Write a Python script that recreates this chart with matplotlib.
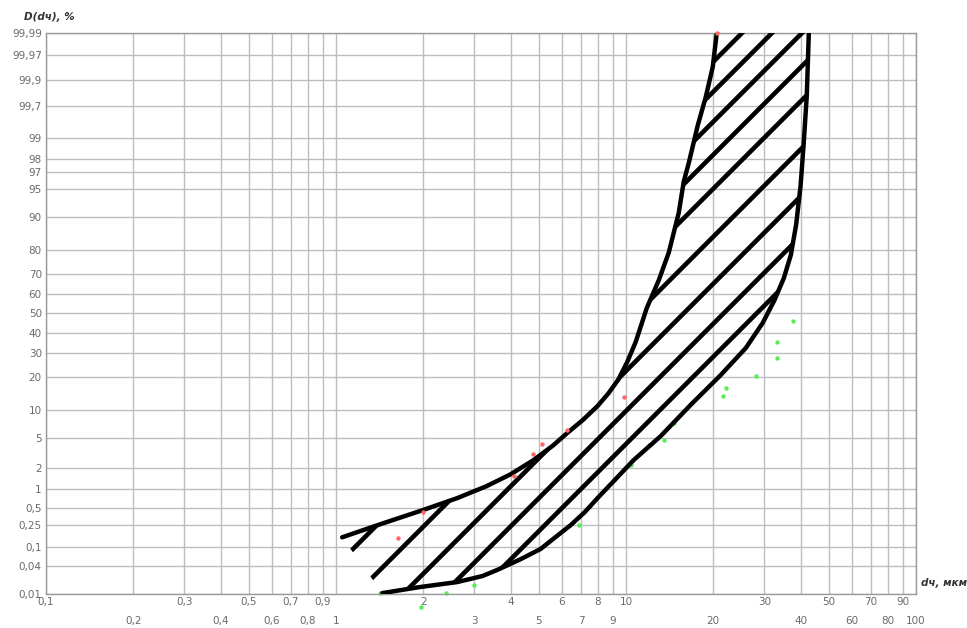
import math
import numpy as np
import matplotlib
matplotlib.use("Agg")
import matplotlib.pyplot as plt
from matplotlib.patches import Polygon
from matplotlib.ticker import FixedLocator

# ---------------- data ----------------
x_ticks = [0.1, 0.2, 0.3, 0.4, 0.5, 0.6, 0.7, 0.8, 0.9, 1, 2, 3, 4, 5, 6, 7, 8, 9,
           10, 20, 30, 40, 50, 60, 70, 80, 90, 100]
x_labels = ["0,1", "0,2", "0,3", "0,4", "0,5", "0,6", "0,7", "0,8", "0,9", "1",
            "2", "3", "4", "5", "6", "7", "8", "9", "10", "20", "30", "40", "50",
            "60", "70", "80", "90", "100"]
y_ticks = [0.01, 0.04, 0.1, 0.25, 0.5, 1, 2, 5, 10, 20, 30, 40, 50, 60, 70, 80,
           90, 95, 97, 98, 99, 99.7, 99.9, 99.97, 99.99]
y_labels = ["0,01", "0,04", "0,1", "0,25", "0,5", "1", "2", "5", "10", "20", "30",
            "40", "50", "60", "70", "80", "90", "95", "97", "98", "99", "99,7",
            "99,9", "99,97", "99,99"]

# upper (left) boundary curve
upper_d = [1.05, 1.42, 2.00, 2.62, 3.30, 4.00, 4.80, 5.60, 6.29, 7.10, 7.98, 8.70,
           9.40, 10.1, 10.8, 11.8, 12.97, 14.04, 15.2, 15.82, 16.46, 17.68, 18.84,
           19.91, 20.56]
upper_p = [0.15, 0.26, 0.46, 0.72, 1.1, 1.65, 2.6, 4.0, 5.7, 7.9, 11.0, 14.5,
           19.0, 26.0, 35.3, 53.0, 67.0, 79.0, 90.9, 96.0, 97.7, 99.37, 99.795,
           99.946, 99.99]
# lower (right) boundary curve
lower_d = [1.445, 1.955, 2.62, 3.20, 3.61, 4.30, 5.08, 5.70, 6.44, 7.20, 7.98, 9.20,
           10.63, 13.17, 16.72, 21.2, 25.9, 29.6, 32.5, 35.0, 37.0, 38.6, 40.0,
           41.0, 42.0, 42.7]
lower_p = [0.0105, 0.0144, 0.0185, 0.025, 0.034, 0.055, 0.09, 0.15, 0.25, 0.42,
           0.72, 1.4, 2.6, 5.2, 11.3, 20.7, 32.4, 45.0, 57.0, 68.0, 78.0, 88.0,
           95.5, 98.8, 99.8, 99.99]

# experimental points
red_d = [1.63, 2.00, 4.10, 4.76, 5.12, 6.24, 9.81, 20.6]
red_p = [0.143, 0.424, 1.56, 3.12, 4.18, 6.12, 13.4, 99.99]
green_d = [1.42, 1.97, 2.40, 2.98, 6.86, 9.07, 10.38, 11.97, 13.49, 14.61, 16.7,
           21.6, 22.1, 28.0, 33.1, 33.1, 37.6]
green_p = [0.0105, 0.005, 0.0105, 0.0159, 0.252, 1.36, 2.23, 4.06, 4.68, 7.33,
           11.8, 13.7, 16.2, 20.4, 27.8, 35.3, 46.0]

# ---------------- probability scale ----------------
_a = [-3.969683028665376e+01, 2.209460984245205e+02, -2.759285104469687e+02,
      1.383577518672690e+02, -3.066479806614716e+01, 2.506628277459239e+00]
_b = [-5.447609879822406e+01, 1.615858368580409e+02, -1.556989798598866e+02,
      6.680131188771972e+01, -1.328068155288572e+01]
_c = [-7.784894002430293e-03, -3.223964580411365e-01, -2.400758277161838e+00,
      -2.549732539343734e+00, 4.374664141464968e+00, 2.938163982698783e+00]
_dd = [7.784695709041462e-03, 3.224671290700398e-01, 2.445134137142996e+00,
       3.754408661907416e+00]


def _ppf(p):
    p = np.clip(np.asarray(p, dtype=float), 1e-12, 1 - 1e-12)
    out = np.empty_like(p)
    plow = 0.02425
    lo = p < plow
    hi = p > 1 - plow
    mid = ~(lo | hi)
    q = np.sqrt(-2 * np.log(p[lo]))
    out[lo] = ((((((_c[0]*q+_c[1])*q+_c[2])*q+_c[3])*q+_c[4])*q+_c[5]) /
               ((((_dd[0]*q+_dd[1])*q+_dd[2])*q+_dd[3])*q+1))
    q = p[mid] - 0.5
    r = q * q
    out[mid] = ((((((_a[0]*r+_a[1])*r+_a[2])*r+_a[3])*r+_a[4])*r+_a[5])*q /
                (((((_b[0]*r+_b[1])*r+_b[2])*r+_b[3])*r+_b[4])*r+1))
    q = np.sqrt(-2 * np.log(1 - p[hi]))
    out[hi] = -((((((_c[0]*q+_c[1])*q+_c[2])*q+_c[3])*q+_c[4])*q+_c[5]) /
                ((((_dd[0]*q+_dd[1])*q+_dd[2])*q+_dd[3])*q+1))
    return out


_erfc = np.vectorize(math.erfc)


def fwd(y):
    return _ppf(np.asarray(y, dtype=float) / 100.0)


def inv(z):
    return 100.0 * 0.5 * _erfc(-np.asarray(z, dtype=float) / math.sqrt(2))


# ---------------- figure ----------------
W, H = 967, 628
fig = plt.figure(figsize=(W / 100, H / 100), dpi=100)
L, R, T, B = 46, 916, 33, 594
ax = fig.add_axes([L / W, 1 - B / H, (R - L) / W, (B - T) / H])
ax.set_xscale("log")
ax.set_yscale("function", functions=(fwd, inv))
ax.set_xlim(0.1, 100)
ax.set_ylim(0.01, 99.99)

grid_col = "#bdbdbd"
lab_col = "#6a6a6a"
upper_idx = list(range(0, len(x_ticks), 2))
lower_idx = list(range(1, len(x_ticks), 2))
ax.xaxis.set_major_locator(FixedLocator([x_ticks[i] for i in upper_idx]))
ax.xaxis.set_minor_locator(FixedLocator([x_ticks[i] for i in lower_idx]))
ax.set_xticklabels([x_labels[i] for i in upper_idx])
ax.set_xticklabels([x_labels[i] for i in lower_idx], minor=True)
ax.yaxis.set_major_locator(FixedLocator(y_ticks))
ax.yaxis.set_minor_locator(FixedLocator([]))
ax.set_yticklabels(y_labels)
ax.tick_params(axis="x", which="major", length=0, pad=2, labelsize=7.5, labelcolor=lab_col)
ax.tick_params(axis="x", which="minor", length=0, pad=16, labelsize=7.5, labelcolor=lab_col)
ax.tick_params(axis="y", length=0, pad=3, labelsize=7.5, labelcolor=lab_col)
ax.grid(True, which="both", axis="x", color=grid_col, lw=1.0)
ax.grid(True, which="major", axis="y", color=grid_col, lw=1.0)
for s in ax.spines.values():
    s.set_color("#9a9a9a")
    s.set_linewidth(1.0)

# region between curves
verts = list(zip(upper_d, upper_p)) + list(zip(lower_d[::-1], lower_p[::-1]))
region = Polygon(verts, closed=True, transform=ax.transData, fill=False, lw=0)
ax.add_patch(region)

# hatch lines (45 degrees on screen, uneven hand-drawn spacing), clipped to region
aw, ah = (R - L), (B - T)
hatch_offsets_px = [775, 805, 835, 868, 902, 950, 997, 1037, 1070]
for cpx in hatch_offsets_px:
    k = cpx - (L + B)
    u = np.array([0.0, 1.0])
    v = (u * aw - k) / ah
    ln, = ax.plot(u, v, transform=ax.transAxes, color="black", lw=3.3,
                  solid_capstyle="butt", zorder=3)
    ln.set_clip_path(region)

ax.plot(upper_d, upper_p, color="black", lw=3.2, zorder=4, solid_capstyle="round")
ax.plot(lower_d, lower_p, color="black", lw=3.2, zorder=4, solid_capstyle="round")

ax.plot(red_d, red_p, "o", color="#ff6666", ms=3.2, mec="none", zorder=5, clip_on=False)
ax.plot(green_d, green_p, "o", color="#55ee55", ms=3.2, mec="none", zorder=2, clip_on=False)

fig.text(24 / W, 1 - 17 / H, "D(dч), %", fontsize=7.5, fontweight="bold",
         style="italic", color="#333333", va="center", ha="left")
fig.text(921 / W, 1 - 583 / H, "dч, мкм", fontsize=7.5, fontweight="bold",
         style="italic", color="#333333", va="center", ha="left")

fig.savefig("out.png", dpi=100)
